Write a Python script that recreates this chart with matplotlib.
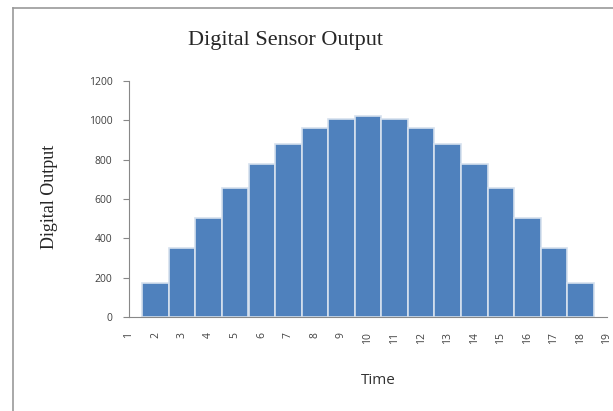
import matplotlib
matplotlib.use("Agg")
import matplotlib.pyplot as plt
from matplotlib.lines import Line2D

time = list(range(2, 19))
output = [175, 350, 505, 655, 780, 882, 960, 1005, 1020, 1005, 960, 882, 780, 655, 505, 350, 175]
xticks = list(range(1, 20))
yticks = [0, 200, 400, 600, 800, 1000, 1200]

fig = plt.figure(figsize=(6.13, 4.11), dpi=100)
ax = fig.add_axes([129 / 613, 1 - 317 / 411, (607 - 129) / 613, (317 - 81) / 411])

ax.bar(time, output, width=1.0, color="#4F81BD", edgecolor="#D5E0EE", linewidth=1.2)

ax.set_xlim(1, 19)
ax.set_ylim(0, 1200)
ax.set_xticks(xticks)
ax.set_xticklabels([str(t) for t in xticks], rotation=90, fontsize=7.5,
                   color="#404040", family="Open Sans")
ax.set_yticks(yticks)
ax.set_yticklabels([str(v) for v in yticks], fontsize=7.5, color="#404040",
                   family="Open Sans")
ax.tick_params(axis="x", length=0, pad=11)
ax.tick_params(axis="y", length=4, color="#888888", pad=8)

for s in ["top", "right"]:
    ax.spines[s].set_visible(False)
ax.spines["left"].set_color("#888888")
ax.spines["bottom"].set_color("#888888")

fig.text(285 / 613, 1 - 41 / 411, "Digital Sensor Output", ha="center", va="center",
         fontsize=16, family="Liberation Serif", color="#262626")
fig.text(49 / 613, 1 - 197 / 411, "Digital Output", ha="center", va="center",
         rotation=90, fontsize=13, family="Liberation Serif", color="#262626")
fig.text(378 / 613, 1 - 380 / 411, "Time", ha="center", va="center",
         fontsize=11, family="Open Sans", color="#333333")

# chart area border (only left and top edges are visible)
fig.add_artist(Line2D([13 / 613, 13 / 613], [0, 1 - 8 / 411], transform=fig.transFigure,
                      color="#999999", linewidth=1.2))
fig.add_artist(Line2D([13 / 613, 1], [1 - 8 / 411, 1 - 8 / 411], transform=fig.transFigure,
                      color="#999999", linewidth=1.2))

fig.savefig("out.png", dpi=100)
